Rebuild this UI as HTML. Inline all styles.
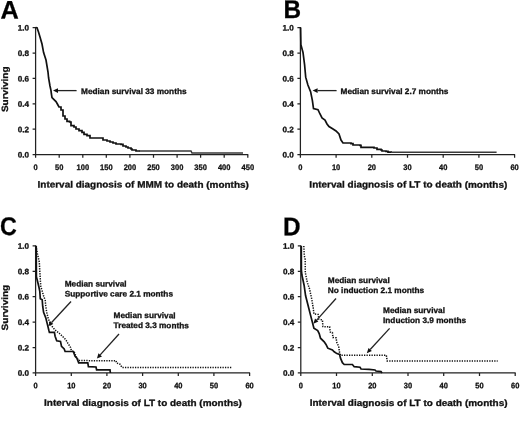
<!DOCTYPE html>
<html><head><meta charset="utf-8"><title>Figure</title>
<style>html,body{margin:0;padding:0;background:#fff}svg{display:block}</style>
</head><body>
<svg width="520" height="429" viewBox="0 0 520 429">
<rect width="520" height="429" fill="#fff"/>
<text font-family="'Liberation Sans', sans-serif" font-weight="bold" stroke="#111" stroke-width="0.3" text-rendering="geometricPrecision" font-size="25.3" fill="#000" transform="translate(0.5,18.4) scale(1,1) rotate(0.03)">A</text>
<g stroke="#222" stroke-width="1.25" fill="none">
<path d="M35.6,27.1V154.7H248.3"/>
<path d="M32.6,154.7H35.6M32.6,129.2H35.6M32.6,103.8H35.6M32.6,78.4H35.6M32.6,53.0H35.6M32.6,27.6H35.6M35.6,154.7v3M59.2,154.7v3M82.8,154.7v3M106.3,154.7v3M129.9,154.7v3M153.5,154.7v3M177.1,154.7v3M200.6,154.7v3M224.2,154.7v3M247.8,154.7v3"/>
</g>
<g font-family="'Liberation Sans', sans-serif" font-weight="bold" stroke="#111" stroke-width="0.3" text-rendering="geometricPrecision" font-size="7.9" fill="#111">
<text text-anchor="end" transform="translate(29.1,157.6) scale(1.03,1) rotate(0.03)">0.0</text>
<text text-anchor="end" transform="translate(29.1,132.2) scale(1.03,1) rotate(0.03)">0.2</text>
<text text-anchor="end" transform="translate(29.1,106.8) scale(1.03,1) rotate(0.03)">0.4</text>
<text text-anchor="end" transform="translate(29.1,81.4) scale(1.03,1) rotate(0.03)">0.6</text>
<text text-anchor="end" transform="translate(29.1,56.0) scale(1.03,1) rotate(0.03)">0.8</text>
<text text-anchor="end" transform="translate(29.1,30.6) scale(1.03,1) rotate(0.03)">1.0</text>
<text font-size="7.9" text-anchor="middle" transform="translate(35.6,170.1) scale(0.95,1) rotate(0.03)">0</text>
<text font-size="7.9" text-anchor="middle" transform="translate(59.2,170.1) scale(0.95,1) rotate(0.03)">50</text>
<text font-size="7.9" text-anchor="middle" transform="translate(82.8,170.1) scale(0.95,1) rotate(0.03)">100</text>
<text font-size="7.9" text-anchor="middle" transform="translate(106.3,170.1) scale(0.95,1) rotate(0.03)">150</text>
<text font-size="7.9" text-anchor="middle" transform="translate(129.9,170.1) scale(0.95,1) rotate(0.03)">200</text>
<text font-size="7.9" text-anchor="middle" transform="translate(153.5,170.1) scale(0.95,1) rotate(0.03)">250</text>
<text font-size="7.9" text-anchor="middle" transform="translate(177.1,170.1) scale(0.95,1) rotate(0.03)">300</text>
<text font-size="7.9" text-anchor="middle" transform="translate(200.6,170.1) scale(0.95,1) rotate(0.03)">350</text>
<text font-size="7.9" text-anchor="middle" transform="translate(224.2,170.1) scale(0.95,1) rotate(0.03)">400</text>
<text font-size="7.9" text-anchor="middle" transform="translate(247.8,170.1) scale(0.95,1) rotate(0.03)">450</text>
</g>
<text font-family="'Liberation Sans', sans-serif" font-weight="bold" stroke="#111" stroke-width="0.3" text-rendering="geometricPrecision" font-size="9.1" fill="#111" text-anchor="middle" transform="translate(143.2,187.6) scale(1.095,1) rotate(0.03)">Interval diagnosis of MMM to death (months)</text>
<text font-family="'Liberation Sans', sans-serif" font-weight="bold" stroke="#111" stroke-width="0.3" text-rendering="geometricPrecision" font-size="9.1" fill="#111" text-anchor="middle" transform="translate(8.1,89.3) rotate(-90.03) scale(1.10,1)">Surviving</text>
<polyline points="35.6,27.5 37.0,27.7 38.5,32.0 40.0,37.0 42.0,44.0 43.6,52.6 46.0,60.0 48.0,72.0 48.6,78.0 50.0,86.0 51.0,90.6 51.4,94.0 52.0,97.6 54.0,99.6 56.0,101.6 57.4,104.0 59.0,107.0 61.0,107.0 61.0,110.0 63.0,110.0 63.0,112.0 63.0,116.0 65.0,116.0 65.0,119.0 67.0,119.0 67.0,121.4 69.6,121.4 69.6,122.0 71.0,122.0 71.0,125.6 74.0,125.6 74.0,127.0 76.0,127.0 76.0,129.0 79.0,129.0 79.0,130.6 82.0,130.6 82.0,132.4 84.0,132.4 84.0,134.4 87.0,134.4 87.0,135.6 90.0,135.6 90.0,138.0 102.0,138.0 103.0,138.0 103.0,140.0 107.0,140.0 107.0,141.0 110.0,141.0 110.0,142.0 113.0,142.0 113.0,143.0 116.0,143.0 116.0,144.0 121.0,144.0 121.0,144.4 123.0,144.4 123.0,146.0 126.0,146.0 126.0,147.0 128.0,147.0 128.0,148.0 131.0,148.0 131.0,149.0 132.0,149.0 132.0,150.0 136.0,150.0 136.0,151.0 140.0,151.0" fill="none" stroke="#111" stroke-width="1.7" stroke-linejoin="miter"/>
<polyline points="139.0,151.0 191.0,151.0 192.0,153.0 243.0,153.0" fill="none" stroke="#3a3a3a" stroke-width="1.5" stroke-linejoin="miter"/>
<line x1="76.6" y1="90.6" x2="58.0" y2="90.6" stroke="#222" stroke-width="1.3"/>
<polygon points="53.0,90.6 58.0,88.3 58.0,92.9" fill="#111"/>
<text font-family="'Liberation Sans', sans-serif" font-weight="bold" stroke="#111" stroke-width="0.3" text-rendering="geometricPrecision" font-size="8.1" fill="#111" transform="translate(81.0,94.0) scale(1.02,1) rotate(0.03)">Median survival 33 months</text>
<text font-family="'Liberation Sans', sans-serif" font-weight="bold" stroke="#111" stroke-width="0.3" text-rendering="geometricPrecision" font-size="25.6" fill="#000" transform="translate(283.5,18.0) scale(0.95,1) rotate(0.03)">B</text>
<g stroke="#222" stroke-width="1.25" fill="none">
<path d="M300.4,27.1V154.7H515.1"/>
<path d="M297.4,154.7H300.4M297.4,129.2H300.4M297.4,103.8H300.4M297.4,78.4H300.4M297.4,53.0H300.4M297.4,27.6H300.4M300.4,154.7v3M336.1,154.7v3M371.8,154.7v3M407.5,154.7v3M443.2,154.7v3M478.9,154.7v3M514.6,154.7v3"/>
</g>
<g font-family="'Liberation Sans', sans-serif" font-weight="bold" stroke="#111" stroke-width="0.3" text-rendering="geometricPrecision" font-size="7.9" fill="#111">
<text text-anchor="end" transform="translate(293.9,157.6) scale(1.03,1) rotate(0.03)">0.0</text>
<text text-anchor="end" transform="translate(293.9,132.2) scale(1.03,1) rotate(0.03)">0.2</text>
<text text-anchor="end" transform="translate(293.9,106.8) scale(1.03,1) rotate(0.03)">0.4</text>
<text text-anchor="end" transform="translate(293.9,81.4) scale(1.03,1) rotate(0.03)">0.6</text>
<text text-anchor="end" transform="translate(293.9,56.0) scale(1.03,1) rotate(0.03)">0.8</text>
<text text-anchor="end" transform="translate(293.9,30.6) scale(1.03,1) rotate(0.03)">1.0</text>
<text font-size="7.9" text-anchor="middle" transform="translate(300.4,170.1) scale(0.95,1) rotate(0.03)">0</text>
<text font-size="7.9" text-anchor="middle" transform="translate(336.1,170.1) scale(0.95,1) rotate(0.03)">10</text>
<text font-size="7.9" text-anchor="middle" transform="translate(371.8,170.1) scale(0.95,1) rotate(0.03)">20</text>
<text font-size="7.9" text-anchor="middle" transform="translate(407.5,170.1) scale(0.95,1) rotate(0.03)">30</text>
<text font-size="7.9" text-anchor="middle" transform="translate(443.2,170.1) scale(0.95,1) rotate(0.03)">40</text>
<text font-size="7.9" text-anchor="middle" transform="translate(478.9,170.1) scale(0.95,1) rotate(0.03)">50</text>
<text font-size="7.9" text-anchor="middle" transform="translate(514.6,170.1) scale(0.95,1) rotate(0.03)">60</text>
</g>
<text font-family="'Liberation Sans', sans-serif" font-weight="bold" stroke="#111" stroke-width="0.3" text-rendering="geometricPrecision" font-size="9.1" fill="#111" text-anchor="middle" transform="translate(408.3,187.6) scale(1.095,1) rotate(0.03)">Interval diagnosis of LT to death (months)</text>
<polyline points="300.6,27.6 300.9,44.7 303.0,52.5 304.6,64.8 305.7,77.2 307.9,85.0 310.6,91.7 312.4,100.7 313.5,108.6 318.0,109.7 320.0,114.0 322.0,118.0 325.0,120.0 327.0,124.0 329.0,126.6 333.0,129.0 336.0,131.0 339.0,134.0 341.0,140.0 343.0,143.0 351.0,143.0 351.0,143.6 353.0,143.6 353.0,145.0 360.0,145.0 360.0,145.4 361.0,145.4 361.0,147.4 374.0,147.4 374.0,148.0 377.0,148.0 377.0,149.4 381.0,149.4 381.0,150.0 382.0,150.0 382.0,151.0 386.0,151.0 386.0,151.4 388.0,151.4 388.0,152.2 392.0,152.2" fill="none" stroke="#111" stroke-width="1.7" stroke-linejoin="miter"/>
<polyline points="391.0,152.2 496.6,152.2" fill="none" stroke="#3a3a3a" stroke-width="1.5" stroke-linejoin="miter"/>
<line x1="336.6" y1="90.6" x2="317.6" y2="90.6" stroke="#222" stroke-width="1.3"/>
<polygon points="312.6,90.6 317.6,88.3 317.6,92.9" fill="#111"/>
<text font-family="'Liberation Sans', sans-serif" font-weight="bold" stroke="#111" stroke-width="0.3" text-rendering="geometricPrecision" font-size="8.1" fill="#111" transform="translate(340.6,94.0) scale(1.02,1) rotate(0.03)">Median survival 2.7 months</text>
<text font-family="'Liberation Sans', sans-serif" font-weight="bold" stroke="#111" stroke-width="0.3" text-rendering="geometricPrecision" font-size="25.6" fill="#000" transform="translate(-0.1,234.9) scale(0.91,1) rotate(0.03)">C</text>
<g stroke="#222" stroke-width="1.25" fill="none">
<path d="M35.6,245.3V372.9H250.1"/>
<path d="M32.6,372.9H35.6M32.6,347.5H35.6M32.6,322.1H35.6M32.6,296.7H35.6M32.6,271.3H35.6M32.6,245.8H35.6M35.6,372.9v3M71.3,372.9v3M106.9,372.9v3M142.6,372.9v3M178.3,372.9v3M213.9,372.9v3M249.6,372.9v3"/>
</g>
<g font-family="'Liberation Sans', sans-serif" font-weight="bold" stroke="#111" stroke-width="0.3" text-rendering="geometricPrecision" font-size="7.9" fill="#111">
<text text-anchor="end" transform="translate(29.1,375.8) scale(1.03,1) rotate(0.03)">0.0</text>
<text text-anchor="end" transform="translate(29.1,350.4) scale(1.03,1) rotate(0.03)">0.2</text>
<text text-anchor="end" transform="translate(29.1,325.0) scale(1.03,1) rotate(0.03)">0.4</text>
<text text-anchor="end" transform="translate(29.1,299.6) scale(1.03,1) rotate(0.03)">0.6</text>
<text text-anchor="end" transform="translate(29.1,274.2) scale(1.03,1) rotate(0.03)">0.8</text>
<text text-anchor="end" transform="translate(29.1,248.8) scale(1.03,1) rotate(0.03)">1.0</text>
<text font-size="7.9" text-anchor="middle" transform="translate(35.6,388.3) scale(0.95,1) rotate(0.03)">0</text>
<text font-size="7.9" text-anchor="middle" transform="translate(71.3,388.3) scale(0.95,1) rotate(0.03)">10</text>
<text font-size="7.9" text-anchor="middle" transform="translate(106.9,388.3) scale(0.95,1) rotate(0.03)">20</text>
<text font-size="7.9" text-anchor="middle" transform="translate(142.6,388.3) scale(0.95,1) rotate(0.03)">30</text>
<text font-size="7.9" text-anchor="middle" transform="translate(178.3,388.3) scale(0.95,1) rotate(0.03)">40</text>
<text font-size="7.9" text-anchor="middle" transform="translate(213.9,388.3) scale(0.95,1) rotate(0.03)">50</text>
<text font-size="7.9" text-anchor="middle" transform="translate(249.6,388.3) scale(0.95,1) rotate(0.03)">60</text>
</g>
<text font-family="'Liberation Sans', sans-serif" font-weight="bold" stroke="#111" stroke-width="0.3" text-rendering="geometricPrecision" font-size="9.1" fill="#111" text-anchor="middle" transform="translate(143.0,405.9) scale(1.095,1) rotate(0.03)">Interval diagnosis of LT to death (months)</text>
<text font-family="'Liberation Sans', sans-serif" font-weight="bold" stroke="#111" stroke-width="0.3" text-rendering="geometricPrecision" font-size="9.1" fill="#111" text-anchor="middle" transform="translate(8.1,307.6) rotate(-90.03) scale(1.10,1)">Surviving</text>
<polyline points="36.2,246.0 36.4,276.7 36.9,278.7 38.8,286.5 39.8,291.4 40.3,298.8 42.2,299.7 42.7,306.2 43.6,312.3 45.9,318.3 47.4,324.4 48.9,330.5 49.4,332.3 54.4,332.3 55.1,336.2 56.7,340.8 60.5,341.4 61.5,346.4 64.2,349.0 65.1,351.5 73.3,351.5 75.1,356.4 76.9,358.2 78.7,362.9 87.8,362.9 88.4,366.6 96.0,367.0 96.6,369.8 110.0,369.8 110.4,373.0" fill="none" stroke="#111" stroke-width="1.7" stroke-linejoin="miter"/>
<polyline points="36.0,246.0 37.5,254.0 39.3,262.0 39.8,271.8 40.3,279.6 40.8,286.5 42.3,291.4 43.7,296.3 45.2,300.2 45.6,305.0 46.7,312.3 48.2,318.3 50.5,324.4 53.5,328.2 56.5,331.2 59.5,333.5 62.6,336.5 65.6,339.5 67.9,343.3 70.5,347.3 71.5,351.0 74.2,351.8 76.0,356.4 78.7,360.6 116.0,360.7 116.5,363.0 120.0,364.2 122.0,367.4 231.6,367.5" fill="none" stroke="#111" stroke-width="1.5" stroke-linejoin="miter" stroke-dasharray="1.3 1.2"/>
<line x1="71.0" y1="301.5" x2="51.6" y2="322.5" stroke="#222" stroke-width="1.3"/>
<polygon points="48.2,326.2 49.9,321.0 53.3,324.1" fill="#111"/>
<line x1="119.0" y1="334.0" x2="100.2" y2="354.9" stroke="#222" stroke-width="1.3"/>
<polygon points="96.9,358.6 98.5,353.3 102.0,356.4" fill="#111"/>
<text font-family="'Liberation Sans', sans-serif" font-weight="bold" stroke="#111" stroke-width="0.3" text-rendering="geometricPrecision" font-size="8.1" fill="#111" transform="translate(64.7,286.5) scale(1.02,1) rotate(0.03)">Median survival</text>
<text font-family="'Liberation Sans', sans-serif" font-weight="bold" stroke="#111" stroke-width="0.3" text-rendering="geometricPrecision" font-size="8.1" fill="#111" transform="translate(64.7,296.5) scale(1.02,1) rotate(0.03)">Supportive care 2.1 months</text>
<text font-family="'Liberation Sans', sans-serif" font-weight="bold" stroke="#111" stroke-width="0.3" text-rendering="geometricPrecision" font-size="8.1" fill="#111" transform="translate(113.6,318.1) scale(1.02,1) rotate(0.03)">Median survival</text>
<text font-family="'Liberation Sans', sans-serif" font-weight="bold" stroke="#111" stroke-width="0.3" text-rendering="geometricPrecision" font-size="8.1" fill="#111" transform="translate(113.6,328.1) scale(1.02,1) rotate(0.03)">Treated 3.3 months</text>
<text font-family="'Liberation Sans', sans-serif" font-weight="bold" stroke="#111" stroke-width="0.3" text-rendering="geometricPrecision" font-size="25.6" fill="#000" transform="translate(282.9,235.3) scale(0.95,1) rotate(0.03)">D</text>
<g stroke="#222" stroke-width="1.25" fill="none">
<path d="M300.8,245.3V372.9H515.7"/>
<path d="M297.8,372.9H300.8M297.8,347.5H300.8M297.8,322.1H300.8M297.8,296.7H300.8M297.8,271.3H300.8M297.8,245.8H300.8M300.8,372.9v3M336.5,372.9v3M372.3,372.9v3M408.0,372.9v3M443.7,372.9v3M479.5,372.9v3M515.2,372.9v3"/>
</g>
<g font-family="'Liberation Sans', sans-serif" font-weight="bold" stroke="#111" stroke-width="0.3" text-rendering="geometricPrecision" font-size="7.9" fill="#111">
<text text-anchor="end" transform="translate(294.3,375.8) scale(1.03,1) rotate(0.03)">0.0</text>
<text text-anchor="end" transform="translate(294.3,350.4) scale(1.03,1) rotate(0.03)">0.2</text>
<text text-anchor="end" transform="translate(294.3,325.0) scale(1.03,1) rotate(0.03)">0.4</text>
<text text-anchor="end" transform="translate(294.3,299.6) scale(1.03,1) rotate(0.03)">0.6</text>
<text text-anchor="end" transform="translate(294.3,274.2) scale(1.03,1) rotate(0.03)">0.8</text>
<text text-anchor="end" transform="translate(294.3,248.8) scale(1.03,1) rotate(0.03)">1.0</text>
<text font-size="7.9" text-anchor="middle" transform="translate(300.8,388.3) scale(0.95,1) rotate(0.03)">0</text>
<text font-size="7.9" text-anchor="middle" transform="translate(336.5,388.3) scale(0.95,1) rotate(0.03)">10</text>
<text font-size="7.9" text-anchor="middle" transform="translate(372.3,388.3) scale(0.95,1) rotate(0.03)">20</text>
<text font-size="7.9" text-anchor="middle" transform="translate(408.0,388.3) scale(0.95,1) rotate(0.03)">30</text>
<text font-size="7.9" text-anchor="middle" transform="translate(443.7,388.3) scale(0.95,1) rotate(0.03)">40</text>
<text font-size="7.9" text-anchor="middle" transform="translate(479.5,388.3) scale(0.95,1) rotate(0.03)">50</text>
<text font-size="7.9" text-anchor="middle" transform="translate(515.2,388.3) scale(0.95,1) rotate(0.03)">60</text>
</g>
<text font-family="'Liberation Sans', sans-serif" font-weight="bold" stroke="#111" stroke-width="0.3" text-rendering="geometricPrecision" font-size="9.1" fill="#111" text-anchor="middle" transform="translate(408.6,405.9) scale(1.095,1) rotate(0.03)">Interval diagnosis of LT to death (months)</text>
<polyline points="301.3,246.0 301.4,270.0 301.9,275.0 304.1,285.2 305.6,295.8 307.9,304.8 310.2,313.9 312.4,322.3 313.9,328.3 317.7,330.6 319.2,333.6 320.5,338.2 324.2,341.8 326.0,344.5 327.8,348.2 332.4,350.0 334.2,351.8 336.9,353.6 339.6,354.5 340.5,358.2 342.4,362.7 344.2,364.5 352.4,364.5 354.2,366.7 360.0,367.2 361.0,369.0 369.0,369.4 375.0,370.0 376.0,371.0 381.0,371.6 382.0,373.0" fill="none" stroke="#111" stroke-width="1.7" stroke-linejoin="miter"/>
<polyline points="303.8,246.0 304.3,255.7 305.2,259.6 305.3,272.4 306.5,278.5 307.3,282.5 309.4,288.5 311.7,298.8 313.2,307.9 313.9,313.9 318.3,314.5 318.8,319.2 322.4,320.0 322.9,326.6 329.6,326.8 330.2,332.0 332.4,332.5 332.9,337.5 336.0,337.8 336.9,342.7 338.7,346.4 339.6,352.7 340.5,355.3 386.3,355.3 387.2,360.9 497.7,360.9" fill="none" stroke="#111" stroke-width="1.5" stroke-linejoin="miter" stroke-dasharray="1.3 1.2"/>
<line x1="336.0" y1="298.5" x2="316.7" y2="320.1" stroke="#222" stroke-width="1.3"/>
<polygon points="313.4,323.8 315.0,318.5 318.4,321.6" fill="#111"/>
<line x1="389.6" y1="328.4" x2="370.2" y2="349.5" stroke="#222" stroke-width="1.3"/>
<polygon points="366.8,353.2 368.5,348.0 371.9,351.1" fill="#111"/>
<text font-family="'Liberation Sans', sans-serif" font-weight="bold" stroke="#111" stroke-width="0.3" text-rendering="geometricPrecision" font-size="8.1" fill="#111" transform="translate(327.8,283.0) scale(1.02,1) rotate(0.03)">Median survival</text>
<text font-family="'Liberation Sans', sans-serif" font-weight="bold" stroke="#111" stroke-width="0.3" text-rendering="geometricPrecision" font-size="8.1" fill="#111" transform="translate(327.8,293.0) scale(1.02,1) rotate(0.03)">No induction 2.1 months</text>
<text font-family="'Liberation Sans', sans-serif" font-weight="bold" stroke="#111" stroke-width="0.3" text-rendering="geometricPrecision" font-size="8.1" fill="#111" transform="translate(383.0,312.9) scale(1.02,1) rotate(0.03)">Median survival</text>
<text font-family="'Liberation Sans', sans-serif" font-weight="bold" stroke="#111" stroke-width="0.3" text-rendering="geometricPrecision" font-size="8.1" fill="#111" transform="translate(383.0,322.9) scale(1.02,1) rotate(0.03)">Induction 3.9 months</text>
</svg>
</body></html>
